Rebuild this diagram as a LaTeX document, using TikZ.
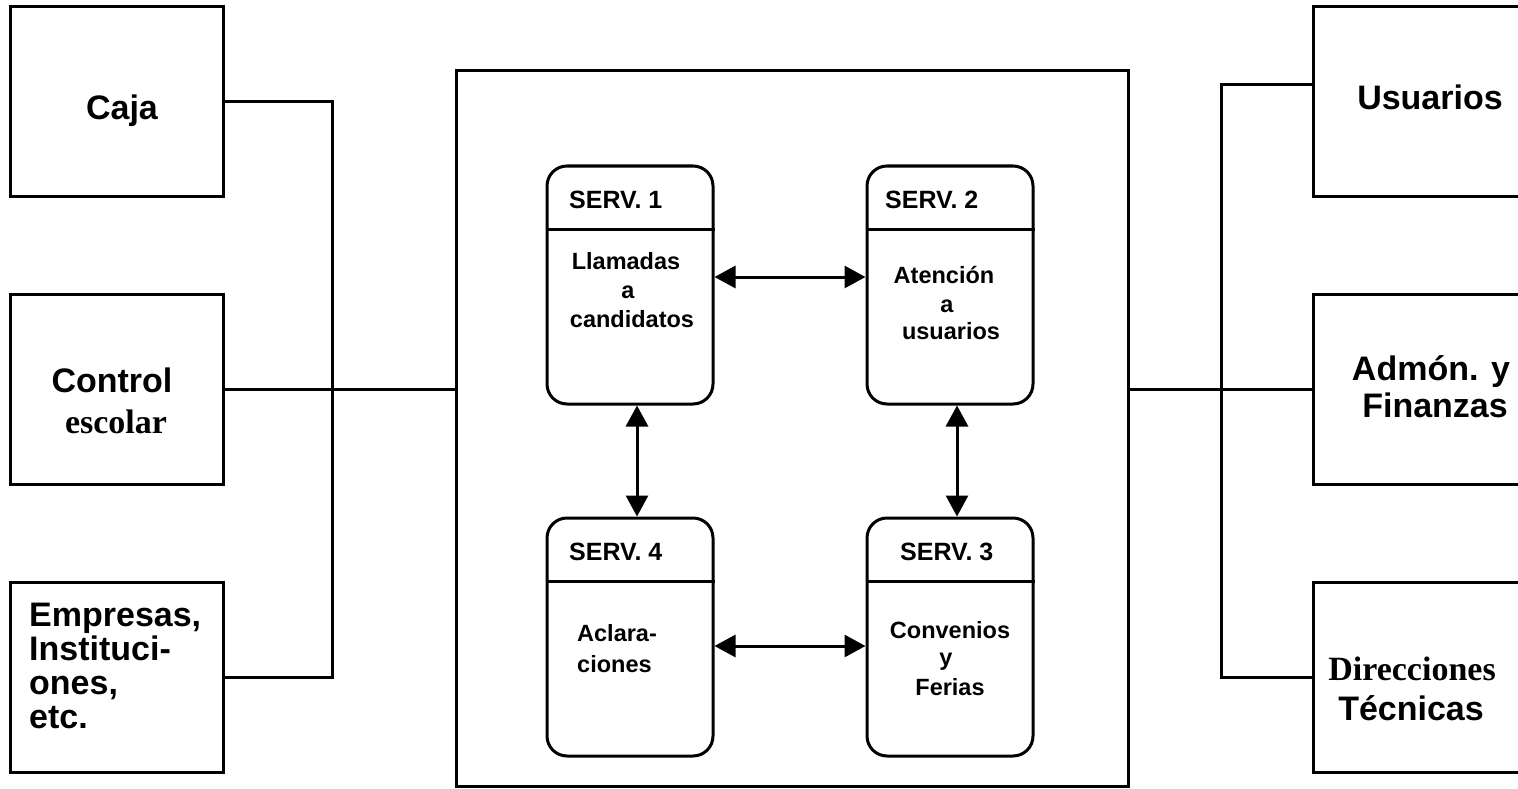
\documentclass[tikz,border=0pt]{standalone}
\usepackage{fontspec}
\setmainfont{Liberation Sans}
\newfontfamily\timesb{Liberation Serif}
\usetikzlibrary{arrows.meta}

\tikzset{
  outerbox/.style={draw, line width=3pt, inner sep=0pt,
    minimum width=213pt, minimum height=190pt},
  sidebox/.style={draw, line width=3pt, inner sep=0pt,
    minimum width=222pt, minimum height=190pt},
  servbox/.style={draw, line width=3pt, rounded corners=20pt, inner sep=0pt,
    minimum width=166pt, minimum height=238pt},
  wire/.style={line width=3pt},
  link/.style={line width=3pt,
    {Triangle[length=21pt,width=22pt]}-{Triangle[length=21pt,width=22pt]}},
  bigtxt/.style={font=\fontsize{34}{34}\selectfont\bfseries, inner sep=0pt, anchor=base},
  bigleft/.style={bigtxt, anchor=base west},
  headtxt/.style={font=\fontsize{25}{25}\selectfont\bfseries, inner sep=0pt, anchor=base west},
  bodytxt/.style={font=\fontsize{23.5}{23.5}\selectfont\bfseries, inner sep=0pt, anchor=base},
  bodyleft/.style={bodytxt, anchor=base west}
}

\begin{document}
\begin{tikzpicture}[x=1pt, y=-1pt]
\useasboundingbox (0,0) rectangle (1518,789);
\clip (0,0) rectangle (1518,789);

% left column
\node[outerbox] (caja) at (117,101.5) {};
\node[outerbox] (control) at (117,389.5) {};
\node[outerbox] (empresas) at (117,677.5) {};

\node[bigtxt] (tcaja) at (122,120) {Caja};
\node[bigtxt] (tcontrol) at (112,392) {Control};
\node[bigtxt, font=\fontsize{34}{34}\selectfont\timesb\bfseries] (tescolar) at (116,433) {escolar};
\node[bigleft] (temp1) at (29,626) {Empresas,};
\node[bigleft] (temp2) at (29,660) {Instituci-};
\node[bigleft] (temp3) at (29,694) {ones,};
\node[bigleft] (temp4) at (29,728) {etc.};

% right column
\node[sidebox] (usuarios) at (1424,101.5) {};
\node[sidebox] (admon) at (1424,389) {};
\node[sidebox] (direcciones) at (1424,677.5) {};

\node[bigtxt] (tusu) at (1430,110) {Usuarios};
\node[bigtxt] (tadm1) at (1431,380) {Admón. y};
\node[bigtxt] (tadm2) at (1435,417) {Finanzas};
\node[bigtxt, font=\fontsize{34}{34}\selectfont\timesb\bfseries] (tdir1) at (1412,680) {Direcciones};
\node[bigtxt] (tdir2) at (1411,720) {Técnicas};

% central frame
\node[draw, line width=3pt, inner sep=0pt, minimum width=672pt, minimum height=715pt] (big) at (792,428.5) {};

% services
\node[servbox] (s1) at (630,285) {};
\node[servbox] (s2) at (950,285) {};
\node[servbox] (s4) at (630,637) {};
\node[servbox] (s3) at (950,637) {};

\draw[wire] (s1.west |- 0,229) -- (s1.east |- 0,229);
\draw[wire] (s2.west |- 0,229) -- (s2.east |- 0,229);
\draw[wire] (s4.west |- 0,581) -- (s4.east |- 0,581);
\draw[wire] (s3.west |- 0,581) -- (s3.east |- 0,581);

\node[headtxt] (h1) at (569,208) {SERV. 1};
\node[headtxt] (h2) at (885,208) {SERV. 2};
\node[headtxt] (h4) at (569,560) {SERV. 4};
\node[headtxt] (h3) at (900,560) {SERV. 3};

\node[bodytxt] (b1a) at (626,269) {Llamadas};
\node[bodytxt] (b1b) at (628,298) {a};
\node[bodytxt] (b1c) at (632,327) {candidatos};

\node[bodytxt] (b2a) at (944,283) {Atención};
\node[bodytxt] (b2b) at (947,312) {a};
\node[bodytxt] (b2c) at (951,339) {usuarios};

\node[bodyleft] (b4a) at (577,641) {Aclara-};
\node[bodyleft] (b4b) at (577,672) {ciones};

\node[bodytxt] (b3a) at (950,638) {Convenios};
\node[bodytxt] (b3b) at (946,665) {y};
\node[bodytxt] (b3c) at (950,695) {Ferias};

% links between services
\draw[link] (s1.east |- 0,277) -- (s2.west |- 0,277);
\draw[link] (s4.east |- 0,646) -- (s3.west |- 0,646);
\draw[link] (s1.south -| 637,0) -- (s4.north -| 637,0);
\draw[link] (s2.south -| 957,0) -- (s3.north -| 957,0);

% left connectors
\coordinate (ljoin) at (332,677.5);
\draw[wire] (caja.east) -| (ljoin) -- (empresas.east);
\draw[wire] (control.east) -- (control.east -| big.west);

% right connectors
\coordinate (utop) at (1313,85);
\coordinate (rjoin) at (1221,677.5);
\draw[wire] (utop) -| (rjoin) -- (direcciones.west);
\draw[wire] (admon.west -| big.east) -- (admon.west);
\end{tikzpicture}
\end{document}
